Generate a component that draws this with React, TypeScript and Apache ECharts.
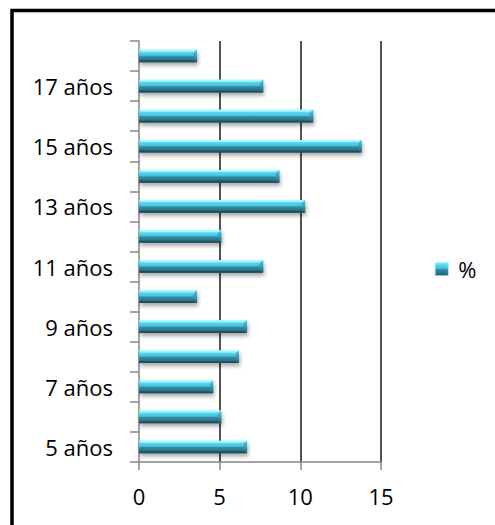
import React, { useEffect, useRef } from "react";
import * as echarts from "echarts";

// Age groups (bottom to top) and their share in percent
const categories = [
  "5 años", "6 años", "7 años", "8 años", "9 años", "10 años", "11 años",
  "12 años", "13 años", "14 años", "15 años", "16 años", "17 años", "18 años",
];
const percentages = [6.7, 5.1, 4.6, 6.2, 6.7, 3.6, 7.7, 5.1, 10.3, 8.7, 13.8, 10.8, 7.7, 3.6];
const seriesName = "%";
const xTicks = { min: 0, max: 15, interval: 5 };

const FONT = "'Open Sans', 'Noto Sans', sans-serif";

const bodyGradient = () =>
  new echarts.graphic.LinearGradient(0, 0, 0, 1, [
    { offset: 0, color: "#8cf1ff" },
    { offset: 0.18, color: "#5ad9f1" },
    { offset: 0.45, color: "#46c2db" },
    { offset: 0.55, color: "#33899f" },
    { offset: 0.85, color: "#2b6f82" },
    { offset: 1, color: "#22596a" },
  ]);

// Beveled 3D-looking horizontal bar
function renderBar(params: any, api: any) {
  const cat = api.value(1);
  const val = api.value(0);
  const start = api.coord([0, cat]);
  const end = api.coord([val, cat]);
  const band = api.size([0, 1])[1];
  const h = band * 0.42;
  const x0 = start[0];
  const x1 = end[0];
  const y0 = start[1] - h / 2;
  const y1 = y0 + h;
  const b = 3.5;
  return {
    type: "group",
    children: [
      {
        type: "rect",
        shape: { x: x0, y: y0, width: x1 - x0, height: h },
        style: {
          fill: bodyGradient(),
          shadowBlur: 4,
          shadowOffsetX: 1,
          shadowOffsetY: 3,
          shadowColor: "rgba(0,0,0,0.35)",
        },
      },
      {
        type: "polygon",
        shape: { points: [[x0, y0], [x1, y0], [x1 - b, y0 + 2], [x0 + 2, y0 + 2]] },
        style: { fill: "#a6f7ff" },
      },
      {
        type: "polygon",
        shape: { points: [[x1, y0], [x1, y1], [x1 - b, y1 - b], [x1 - b, y0 + b]] },
        style: {
          fill: new echarts.graphic.LinearGradient(0, 0, 0, 1, [
            { offset: 0, color: "#4fc9e0" },
            { offset: 0.5, color: "#3a9bb1" },
            { offset: 1, color: "#24606f" },
          ]),
        },
      },
      {
        type: "polygon",
        shape: { points: [[x0, y1], [x1, y1], [x1 - b, y1 - 2], [x0, y1 - 2]] },
        style: { fill: "#1f5060" },
      },
    ],
  };
}

export default function App() {
  const ref = useRef<HTMLDivElement>(null);

  useEffect(() => {
    if (!ref.current) return;
    const chart = echarts.init(ref.current, null, { renderer: "svg" });
    chart.setOption({
      animation: false,
      backgroundColor: "#ffffff",
      textStyle: { fontFamily: FONT },
      grid: { left: 139, right: 114, top: 41, bottom: 63 },
      legend: {
        data: [
          {
            name: seriesName,
            icon: "rect",
            itemStyle: { color: bodyGradient(), borderColor: "#7fe6f6", borderWidth: 0.5 },
          },
        ],
        left: 430,
        top: 253,
        itemWidth: 13,
        itemHeight: 13,
        textStyle: {
          fontFamily: FONT,
          fontSize: 22,
          color: "#000",
          padding: [0, 0, 0, 5],
        },
      },
      xAxis: {
        type: "value",
        min: xTicks.min,
        max: xTicks.max,
        interval: xTicks.interval,
        axisLine: { show: true, lineStyle: { color: "#878787", width: 1.5 } },
        axisTick: { show: true, length: 8, lineStyle: { color: "#878787", width: 1.5 } },
        axisLabel: { fontFamily: FONT, fontSize: 22, color: "#000", margin: 23 },
        splitLine: {
          show: true,
          showMinLine: false,
          lineStyle: { color: "#1a1a1a", width: 1.5 },
        },
      },
      yAxis: {
        type: "category",
        data: categories,
        boundaryGap: true,
        axisLine: { show: true, lineStyle: { color: "#878787", width: 1.5 } },
        axisTick: { show: true, interval: 0, length: 9, lineStyle: { color: "#878787", width: 1.5 } },
        axisLabel: { interval: 1, fontFamily: FONT, fontSize: 22, color: "#000", margin: 26 },
        splitLine: { show: false },
      },
      series: [
        {
          name: seriesName,
          type: "custom",
          renderItem: renderBar,
          encode: { x: 0, y: 1 },
          itemStyle: { color: "#46c2db" },
          data: percentages.map((v, i) => [v, i]),
          z: 3,
        },
      ],
      graphic: [
        {
          type: "rect",
          silent: true,
          shape: { x: 12, y: 10.5, width: 600, height: 600 },
          style: { fill: "none", stroke: "#000", lineWidth: 3.5 },
          z: 10,
        },
      ],
    });
    return () => chart.dispose();
  }, []);

  return (
    <div
      ref={ref}
      style={{ position: "absolute", left: 0, top: 0, width: 495, height: 525, background: "#fff" }}
    />
  );
}
